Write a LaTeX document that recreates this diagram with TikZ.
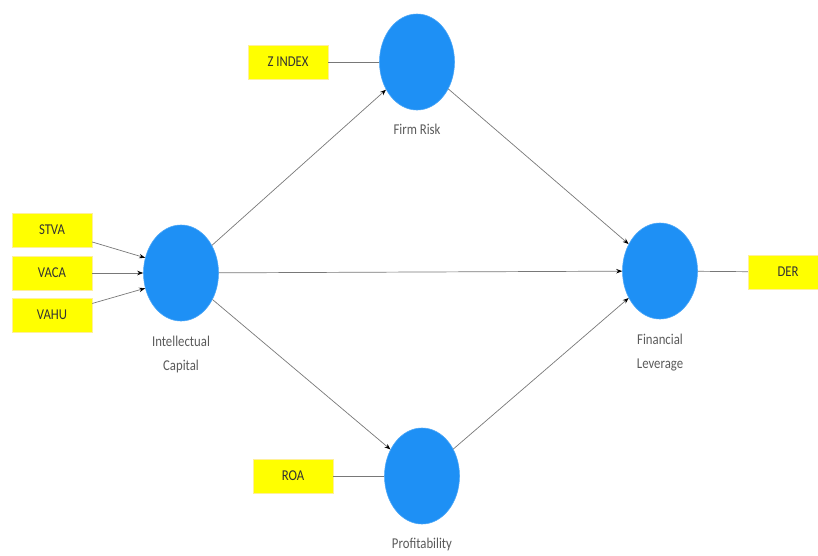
\documentclass[tikz,border=0pt]{standalone}
\usepackage{fontspec}
\setmainfont{Carlito}[FakeStretch=0.85]
\usepackage{tikz}
\usetikzlibrary{shapes.geometric}
\usetikzlibrary{arrows.meta}
\usetikzlibrary{positioning}
\definecolor{latentblue}{RGB}{30, 144, 245}
\definecolor{indyellow}{RGB}{255, 255, 0}
\definecolor{pathgray}{RGB}{120, 120, 120}
\definecolor{labelgray}{RGB}{90, 90, 90}
\tikzset{
  latent/.style={ellipse, fill=latentblue, draw=latentblue!80, line width=0.6pt,
                 minimum width=75pt, minimum height=96pt, inner sep=0pt},
  indicator/.style={rectangle, fill=indyellow, draw=indyellow!70!orange!40, line width=0.4pt,
                    minimum width=80pt, minimum height=34pt, inner sep=0pt,
                    font=\fontsize{15}{17}\selectfont, text=black!80},
  caption/.style={align=center, text=labelgray, inner sep=0pt,
                  font=\fontsize{15}{24}\selectfont},
  path/.style={draw=pathgray, line width=0.7pt,
               -{Stealth[length=6pt, width=4.5pt, black]}},
  link/.style={draw=pathgray, line width=0.7pt}
}
\begin{document}
\begin{tikzpicture}[x=1pt, y=-1pt]
    % Frame to fix the page
    \useasboundingbox (0, 0) rectangle (818, 555);
    % Latent variables
    \node[latent] (IC)   at (181, 273) {};
    \node[latent] (FR)   at (417,  62) {};
    \node[latent] (FL)   at (660, 271) {};
    \node[latent] (PROF) at (422, 476) {};
    % Captions
    \node[caption, below=14pt of FR]   (FRlab)   {Firm Risk};
    \node[caption, below=15pt of IC]   (IClab)   {Intellectual\\Capital};
    \node[caption, below=15pt of FL]   (FLlab)   {Financial\\Leverage};
    \node[caption, below=14pt of PROF] (PROFlab) {Profitability};
    % Indicators
    \node[indicator] (STVA) at ( 52, 230) {STVA};
    \node[indicator] (VACA) at ( 52, 273) {VACA};
    \node[indicator] (VAHU) at ( 52, 315) {VAHU};
    \node[indicator] (ZIDX) at (288,  62) {Z INDEX};
    \node[indicator] (ROA)  at (293, 476) {ROA};
    \node[indicator] (DER)  at (788, 272) {DER};
    % Measurement
    \draw[path] (STVA) -- (IC.157);
    \draw[path] (VACA) -- (IC.180);
    \draw[path] (VAHU) -- (IC.203);
    \draw[link] (ZIDX) -- (FR);
    \draw[link] (ROA)  -- (PROF);
    \draw[link] (FL)   -- (DER);
    % Structural paths
    \draw[path] (IC)   -- (FR);
    \draw[path] (IC)   -- (FL);
    \draw[path] (IC)   -- (PROF);
    \draw[path] (FR)   -- (FL);
    \draw[path] (PROF) -- (FL);
\end{tikzpicture}
\end{document}
